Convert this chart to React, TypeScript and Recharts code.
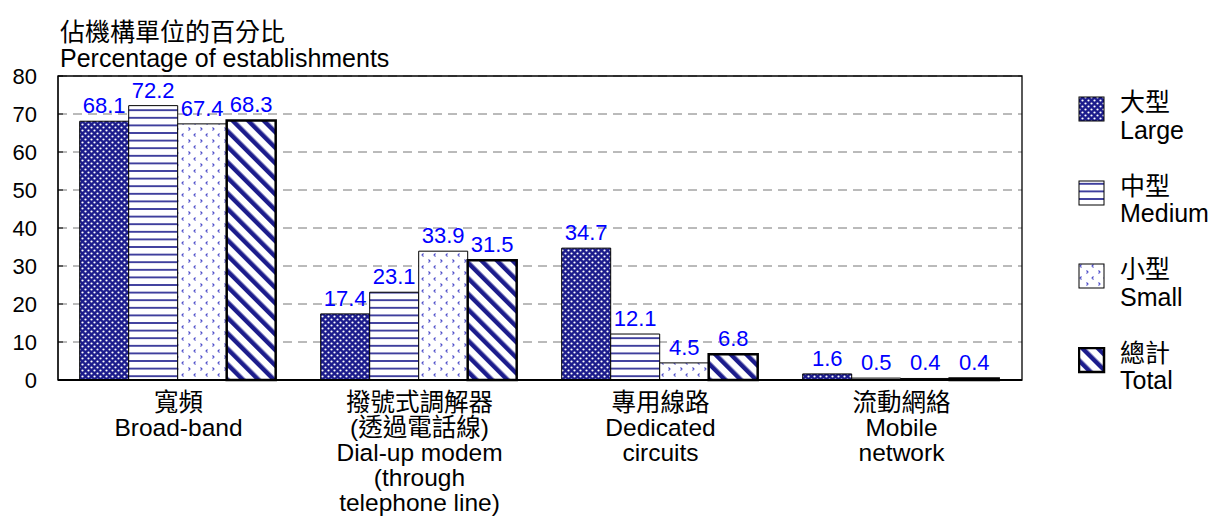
import React from 'react'
import { BarChart, Bar, XAxis, YAxis, CartesianGrid, ReferenceArea, LabelList } from 'recharts'

const categories = ['寬頻', '撥號式調解器', '專用線路', '流動網絡']
const categoryLines = [
  ['寬頻', 'Broad-band'],
  ['撥號式調解器', '(透過電話線)', 'Dial-up modem', '(through', 'telephone line)'],
  ['專用線路', 'Dedicated', 'circuits'],
  ['流動網絡', 'Mobile', 'network'],
]
const large = [68.1, 17.4, 34.7, 1.6]
const medium = [72.2, 23.1, 12.1, 0.5]
const small = [67.4, 33.9, 4.5, 0.4]
const total = [68.3, 31.5, 6.8, 0.4]
const yTicks = [0, 10, 20, 30, 40, 50, 60, 70, 80]

const seriesNames = [
  ['大型', 'Large'],
  ['中型', 'Medium'],
  ['小型', 'Small'],
  ['總計', 'Total'],
]
const seriesKeys = ['large', 'medium', 'small', 'total']
const fills = ['url(#pLarge)', 'url(#pMedium)', 'url(#pSmall)', 'url(#pTotal)']

const data = categories.map((cat, i) => ({
  cat,
  large: large[i],
  medium: medium[i],
  small: small[i],
  total: total[i],
}))

const font = "'Liberation Sans', 'Noto Sans CJK TC', sans-serif"
const navy = '#1c1c8c'

const Patterns = () => (
  <svg width={0} height={0} style={{ position: 'absolute' }}>
    <defs>
      <pattern id="pLarge" width={6} height={6} patternUnits="userSpaceOnUse">
        <rect width={6} height={6} fill={navy} />
        <circle cx={1.5} cy={1.5} r={1.1} fill="#fff" />
        <circle cx={4.5} cy={4.5} r={1.1} fill="#fff" />
      </pattern>
      <pattern id="pMedium" width={8} height={7.6} patternUnits="userSpaceOnUse">
        <rect width={8} height={7.6} fill="#fff" />
        <rect y={3} width={8} height={1.6} fill={navy} />
      </pattern>
      <pattern id="pSmall" width={12} height={12} patternUnits="userSpaceOnUse">
        <rect width={12} height={12} fill="#fff" />
        <path d="M3.5,1.5 L2,3 L3.5,4.5" stroke="#4a4ac8" strokeWidth={1.1} fill="none" />
        <path d="M8.5,7.5 L10,9 L8.5,10.5" stroke="#4a4ac8" strokeWidth={1.1} fill="none" />
      </pattern>
      <pattern id="pTotal" width={11} height={11} patternUnits="userSpaceOnUse" patternTransform="rotate(-45)">
        <rect width={11} height={11} fill="#fff" />
        <rect width={4.5} height={11} fill={navy} />
      </pattern>
    </defs>
  </svg>
)

const CatTick = (props: any) => {
  const { x, y, index } = props
  const lines = categoryLines[index] || []
  return (
    <g>
      {lines.map((l, i) => (
        <text key={i} x={x} y={y + 23 + i * 25} textAnchor="middle" fontSize={24.5} fill="#000" fontFamily={font}>
          {l}
        </text>
      ))}
    </g>
  )
}

const App = () => {
  return (
    <div style={{ position: 'absolute', left: 0, top: 0, width: 1215, height: 521, background: '#fff', fontFamily: font }}>
      <Patterns />
      <div style={{ position: 'absolute', left: 60, top: 19, fontSize: 25, lineHeight: '26px', color: '#000', whiteSpace: 'nowrap' }}>
        <div>佔機構單位的百分比</div>
        <div>Percentage of establishments</div>
      </div>
      <BarChart
        width={1215}
        height={521}
        data={data}
        margin={{ top: 76, right: 193, bottom: 11, left: 8 }}
        barCategoryGap="9%"
        barGap={0}
      >
        <CartesianGrid vertical={false} stroke="#777" strokeDasharray="9 6" />
        <XAxis
          dataKey="cat"
          tickLine={false}
          axisLine={{ stroke: '#000', strokeWidth: 2 }}
          tick={<CatTick />}
          height={130}
          interval={0}
        />
        <YAxis
          domain={[0, 80]}
          ticks={yTicks}
          width={50}
          tickLine={{ stroke: '#000' }}
          tickSize={-5}
          tickMargin={26}
          axisLine={{ stroke: '#000' }}
          tick={{ fill: '#000', fontSize: 22, fontFamily: font }}
        />
        {seriesKeys.map((k, i) => (
          <Bar
            key={k}
            dataKey={k}
            fill={fills[i]}
            stroke="#000"
            strokeWidth={k === 'total' ? 2.5 : 1}
            isAnimationActive={false}
          >
            <LabelList dataKey={k} position="top" fill="#0000ff" fontSize={22} fontFamily={font} offset={8} />
          </Bar>
        ))}
        <ReferenceArea y1={0} y2={80} fill="none" stroke="#000" strokeWidth={1.3} ifOverflow="visible" />
      </BarChart>
      <div style={{ position: 'absolute', left: 1078, top: 89 }}>
        {seriesNames.map((n, i) => (
          <div key={i} style={{ position: 'absolute', top: i * 83.5, left: 0, width: 140, height: 60 }}>
            <svg width={30} height={30} style={{ position: 'absolute', left: 0, top: 7 }}>
              <rect x={1} y={1} width={25} height={24} fill={fills[i]} stroke="#000" strokeWidth={i === 3 ? 2.5 : 1} />
            </svg>
            <div style={{ position: 'absolute', left: 42, top: 0, fontSize: 25, lineHeight: '27.5px', color: '#000', whiteSpace: 'nowrap' }}>
              <div>{n[0]}</div>
              <div>{n[1]}</div>
            </div>
          </div>
        ))}
      </div>
    </div>
  )
}

export default App
